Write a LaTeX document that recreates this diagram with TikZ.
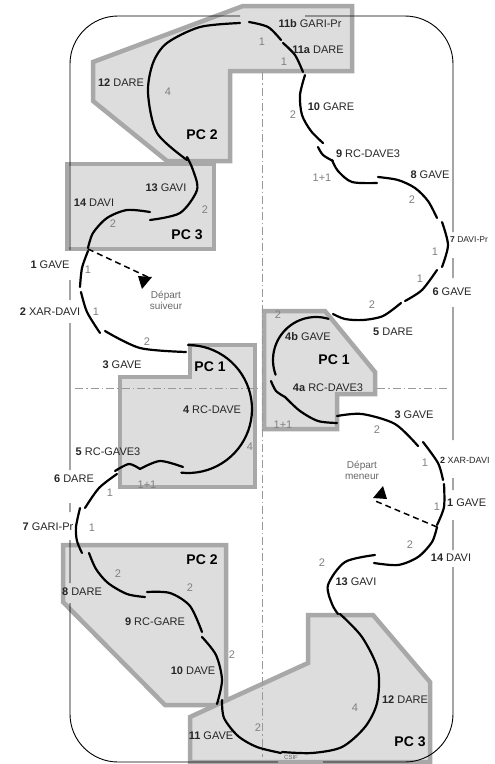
\documentclass[tikz,border=0pt]{standalone}
\usepackage{fontspec}
\setmainfont{Liberation Sans}
\definecolor{zonefill}{RGB}{221,221,221}
\definecolor{zoneline}{RGB}{168,168,168}
\begin{document}
\begin{tikzpicture}[x=1pt, y=-1pt,
		zonestyle/.style={fill=zonefill, draw=zoneline, line width=4.5pt},
		arenastyle/.style={line width=0.9pt, rounded corners=48pt},
		axisstyle/.style={gray!80, line width=0.8pt, dash pattern=on 8pt off 3pt on 1.5pt off 3pt},
		trackstyle/.style={line width=2.2pt, line cap=round},
		startstyle/.style={line width=1.5pt, dash pattern=on 6pt off 4pt},
		labelstyle/.style={font=\fontsize{11}{12}\selectfont, text=black!85, inner sep=0pt},
		numstyle/.style={font=\fontsize{11}{12}\selectfont, text=black!50, inner sep=0pt},
		pcstyle/.style={font=\fontsize{14}{16}\selectfont\bfseries, inner sep=0pt},
		departstyle/.style={font=\fontsize{10}{11}\selectfont, text=black!60, align=center, inner sep=0pt}]

		\useasboundingbox (0,0) rectangle (495,764);

		% zones PC
		\draw[zonestyle] (93,62) -- (243,6) -- (352,6) -- (352,71) -- (230,71) -- (230,161) -- (167,161) -- (93,101) -- cycle;
		\draw[zonestyle] (67,164) -- (214,164) -- (214,249) -- (67,249) -- cycle;
		\draw[zonestyle] (190,345) -- (255,345) -- (255,487) -- (120,487) -- (120,377) -- (190,377) -- cycle;
		\draw[zonestyle] (264,311) -- (325,311) -- (375,372) -- (375,394) -- (337,394) -- (337,429) -- (264,429) -- cycle;
		\draw[zonestyle] (63,545) -- (226,545) -- (226,705) -- (165,705) -- (63,602) -- cycle;
		\draw[zonestyle] (308,615) -- (373,615) -- (430,682) -- (430,762) -- (190,762) -- (190,717) -- (308,663) -- cycle;

		% axes
		\draw[axisstyle] (262,72) -- (262,757);
		\draw[axisstyle] (75,388) -- (258,388) (377,388) -- (448,388);

		% arena
		\draw[arenastyle] (240,16) -- (70,16) -- (70,250)
			(70,280) -- (70,300)
			(70,323) -- (70,470)
			(70,503) -- (70,512)
			(70,540) -- (70,583)
			(70,603) -- (70,762) -- (278,762)
			(323,762) -- (453,762) -- (453,567)
			(453,520) -- (453,550)
			(453,478) -- (453,490)
			(453,307) -- (453,440)
			(453,258) -- (453,278)
			(453,232) -- (453,16) -- (305,16);

		% parcours suiveur
		\draw[trackstyle] plot[smooth] coordinates {(88,251) (82,268) (80,287)};
		\draw[trackstyle] plot[smooth] coordinates {(81,292) (87,312) (100,333)};
		\draw[trackstyle] plot[smooth] coordinates {(105,331) (140,348) (186,352)};
		\draw[trackstyle] plot[domain=-90:96, samples=40] ({188+64*cos(\x)},{409+64*sin(\x)});
		\draw[trackstyle] plot[smooth] coordinates {(183,467) (160,461) (140,469)};
		\draw[trackstyle] plot[smooth] coordinates {(140,469) (129,464) (115,471)};
		\draw[trackstyle] plot[smooth] coordinates {(117,474) (99,488) (85,508)};
		\draw[trackstyle] plot[smooth] coordinates {(80,508) (76,527) (77,541) (82,553)};
		\draw[trackstyle] plot[smooth] coordinates {(89,553) (96,569) (108,583) (127,594) (145,597)};
		\draw[trackstyle] plot[smooth] coordinates {(147,592) (170,593) (190,606) (202,632)};
		\draw[trackstyle] plot[smooth] coordinates {(202,637) (216,655) (222,680) (217,704)};
		\draw[trackstyle] plot[smooth] coordinates {(222,700) (224,718) (238,736) (257,747) (281,753)};
		\draw[trackstyle] plot[smooth] coordinates {(282,752) (312,753) (342,747) (365,727) (377,703) (378,670) (362,637) (340,614)};
		\draw[trackstyle] plot[smooth] coordinates {(338,614) (332,604) (328,585) (345,562) (375,555)};
		\draw[trackstyle] plot[smooth] coordinates {(437,527) (432,542) (418,557) (398,565) (374,563)};

		% parcours meneur
		\draw[trackstyle] plot[smooth] coordinates {(444,484) (444,507) (437,525)};
		\draw[trackstyle] plot[smooth] coordinates {(443,480) (438,463) (423,442)};
		\draw[trackstyle] plot[smooth] coordinates {(418,446) (395,424) (362,414) (337,416)};
		\draw[trackstyle] plot[smooth] coordinates {(271,381) (276,391) (285,397)};
		\draw[trackstyle] plot[smooth] coordinates {(285,397) (300,411) (318,421) (337,423)};
		\draw[trackstyle] plot[domain=160:287, samples=30] ({316+43*cos(\x)},{360+43*sin(\x)});
		\draw[trackstyle] plot[smooth] coordinates {(333,314) (345,319) (363,320) (383,316) (401,303)};
		\draw[trackstyle] plot[smooth] coordinates {(405,301) (422,290) (437,270)};
		\draw[trackstyle] plot[smooth] coordinates {(442,267) (448,245) (442,222)};
		\draw[trackstyle] plot[smooth] coordinates {(437,218) (428,201) (415,188) (398,180) (378,177)};
		\draw[trackstyle] plot[smooth] coordinates {(318,147) (323,155) (333,161)};
		\draw[trackstyle] plot[smooth] coordinates {(332,160) (338,171) (352,182) (377,183)};
		\draw[trackstyle] plot[smooth] coordinates {(323,143) (311,131) (302,115) (300,95) (305,75)};
		\draw[trackstyle] plot[smooth] coordinates {(303,72) (295,55) (283,43)};
		\draw[trackstyle] plot[smooth] coordinates {(281,40) (268,27) (249,22)};
		\draw[trackstyle] plot[smooth] coordinates {(240,23) (200,27) (167,43) (153,63) (148,93) (157,133) (187,160)};
		\draw[trackstyle] plot[smooth] coordinates {(187,157) (193,170) (197,190) (180,213) (150,220)};
		\draw[trackstyle] plot[smooth] coordinates {(150,212) (127,210) (107,218) (93,233) (88,248)};

		% departs
		\draw[startstyle] (88,249) -- (150,278);
		\fill (138,276) -- (152,277) -- (142,289) -- cycle;
		\draw[startstyle] (437,527) -- (373,500);
		\fill (383,486) -- (373,498) -- (387,499) -- cycle;
		\node[departstyle] (dsuiv) at (166,300) {Départ\\suiveur};
		\node[departstyle] (dmen) at (362,470) {Départ\\meneur};
		\node[font=\fontsize{6}{7}\selectfont, text=black!60, inner sep=0pt] (csif) at (291,757) {CSIF};

		% figures
		\foreach \px/\py/\num/\name [count=\i] in {50/265/1/GAVE, 50/312/2/XAR-DAVI, 122/365/3/GAVE,
			212/410/4/RC-DAVE, 108/452/5/RC-GAVE3, 74/479/6/DARE, 48/527/7/GARI-Pr, 82/592/8/DARE,
			155/622/9/RC-GARE, 193/671/10/DAVE, 211/736/11/GAVE, 405/700/12/DARE, 356/582/13/GAVI,
			451/558/14/DAVI}
		{
			\node[labelstyle] (s\i) at (\px,\py) {\textbf{\num} \name};
		}

		\foreach \px/\py/\num/\name in {414/415/3/GAVE, 328/388/4a/RC-DAVE3, 308/337/4b/GAVE,
			393/332/5/DARE, 452/292/6/GAVE, 430/175/8/GAVE, 368/154/9/RC-DAVE3, 331/107/10/GARE,
			318/50/11a/DARE, 310/24/11b/GARI-Pr, 121/83/12/DARE, 166/188/13/GAVI, 94/203/14/DAVI}
		{
			\node[labelstyle] (m\num) at (\px,\py) {\textbf{\num} \name};
		}

		\node[labelstyle, anchor=west] (m1) at (447,503) {\textbf{1} GAVE};
		\node[labelstyle, anchor=west, font=\fontsize{9}{10}\selectfont] (m2) at (440,460) {\textbf{2} XAR-DAVI};
		\node[labelstyle, anchor=west, font=\fontsize{8.5}{10}\selectfont] (m7) at (450,240) {\textbf{7} DAVI-Pr};

		% longueurs
		\foreach \px/\py/\txt [count=\i] in {88/270/1, 96/312/1, 147/342/2, 250/447/4, 147/485/1+1,
			110/493/1, 92/528/1, 118/574/2, 190/588/2, 232/655/2, 258/728/2, 355/708/4, 322/563/2,
			410/545/2, 437/507/1, 425/463/1, 377/430/2, 283/425/1+1, 278/315/2, 372/305/2, 420/279/1,
			435/252/1, 412/200/2, 322/178/1+1, 293/115/2, 284/62/1, 262/42/1, 168/92/4, 205/210/2,
			113/224/2}
		{
			\node[numstyle] (n\i) at (\px,\py) {\txt};
		}

		\foreach \px/\py/\txt [count=\i] in {202/135/PC 2, 187/235/PC 3, 210/367/PC 1, 334/360/PC 1,
			202/560/PC 2, 410/742/PC 3}
		{
			\node[pcstyle] (pc\i) at (\px,\py) {\txt};
		}

		\end{tikzpicture}
\end{document}
